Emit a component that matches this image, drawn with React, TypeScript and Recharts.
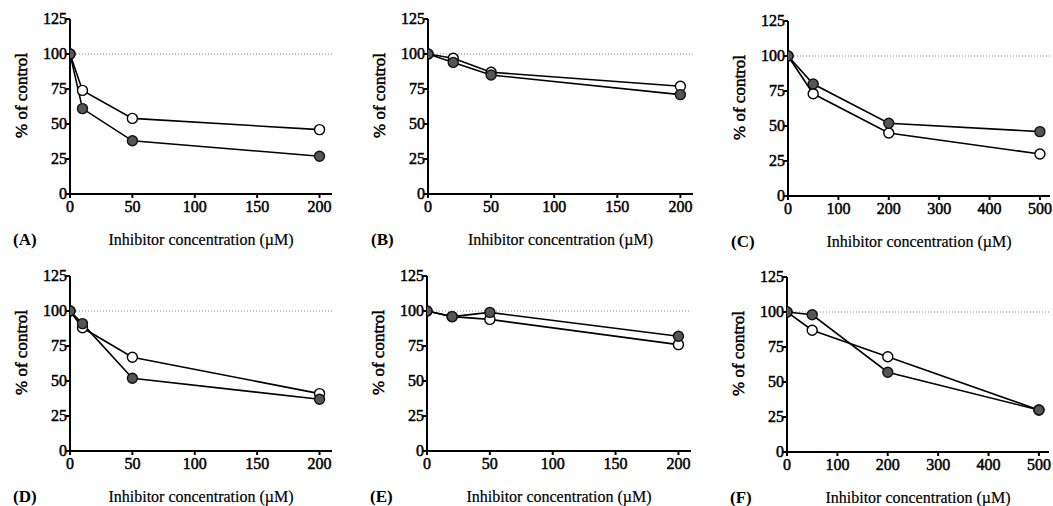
import { LineChart, Line, XAxis, YAxis, ReferenceLine, Label } from "recharts";

// concentrations (µM) per panel
const concA = [0, 10, 50, 200];
const concB = [0, 20, 50, 200];
const concC = [0, 50, 200, 500];
const concD = [0, 10, 50, 200];
const concE = [0, 20, 50, 200];
const concF = [0, 50, 200, 500];

// % of control, open circles
const openA = [100, 74, 54, 46];
const openB = [100, 97, 87, 77];
const openC = [100, 73, 45, 30];
const openD = [100, 88, 67, 41];
const openE = [100, 96, 94, 76];
const openF = [100, 87, 68, 30];

// % of control, filled circles
const filledA = [100, 61, 38, 27];
const filledB = [100, 94, 85, 71];
const filledC = [100, 80, 52, 46];
const filledD = [100, 91, 52, 37];
const filledE = [100, 96, 99, 82];
const filledF = [100, 98, 57, 30];

const yTicks = [0, 25, 50, 75, 100, 125];
const xTicks200 = [0, 50, 100, 150, 200];
const xTicks500 = [0, 100, 200, 300, 400, 500];

const FONT = "'Liberation Serif', 'Times New Roman', serif";
const Y_W = 70;
const PLOT_H = 175;
const TOP = 19;

function toRows(conc: number[], open: number[], filled: number[]) {
  return conc.map((c, i) => ({ c, open: open[i], filled: filled[i] }));
}

const OpenDot = (p: any) => (
  <circle cx={p.cx} cy={p.cy} r={5} fill="#fff" stroke="#000" strokeWidth={1.4} />
);
const FilledDot = (p: any) => (
  <circle cx={p.cx} cy={p.cy} r={5} fill="#555" stroke="#111" strokeWidth={1.4} />
);

const XTick = (p: any) => (
  <text x={p.x} y={p.y} dy={12} textAnchor="middle" fontFamily={FONT} fontSize={16}
    fill="#000" stroke="#000" strokeWidth={0.5}>
    {p.payload.value}
  </text>
);
const YTick = (p: any) => (
  <text x={p.x + 1} y={p.y} dy={5} textAnchor="end" fontFamily={FONT} fontSize={16}
    fill="#000" stroke="#000" strokeWidth={0.5}>
    {p.payload.value}
  </text>
);
const YTitle = (p: any) => {
  const vb = p.viewBox;
  const cx = vb.x + 21;
  const cy = vb.y + vb.height / 2 - 11;
  return (
    <text x={cx} y={cy} transform={`rotate(-90 ${cx} ${cy})`} textAnchor="middle" dominantBaseline="central"
      fontFamily={FONT} fontSize={17} fill="#000" stroke="#000" strokeWidth={0.5}>
      % of control
    </text>
  );
};
const XTitle = (p: any) => {
  const vb = p.viewBox;
  return (
    <text x={vb.x + vb.width / 2} y={vb.y + 51} textAnchor="middle"
      fontFamily={FONT} fontSize={16} fill="#000" stroke="#000" strokeWidth={0.2}>
      Inhibitor concentration (µM)
    </text>
  );
};

interface PanelProps {
  letter: string;
  axisX: number;
  top: number;
  xMax: number;
  plotW: number;
  xTicks: number[];
  conc: number[];
  open: number[];
  filled: number[];
}

function Panel({ letter, axisX, top, xMax, plotW, xTicks, conc, open, filled }: PanelProps) {
  const data = toRows(conc, open, filled);
  const width = Y_W + plotW + 2;
  const height = 253;
  const left = axisX - Y_W;
  return (
    <div style={{ position: "absolute", left, top: top - TOP, width, height, fontFamily: FONT }}>
      <LineChart
        width={width}
        height={height}
        data={data}
        margin={{ top: TOP, right: 2, left: 0, bottom: height - TOP - PLOT_H - 30 }}
      >
        <XAxis
          type="number"
          dataKey="c"
          domain={[0, xMax]}
          ticks={xTicks}
          allowDataOverflow
          stroke="#000"
          strokeWidth={2}
          tickSize={4}
          tick={<XTick />}
          height={30}
        >
          <Label content={<XTitle />} />
        </XAxis>
        <YAxis
          type="number"
          domain={[0, 125]}
          ticks={yTicks}
          width={Y_W}
          stroke="#000"
          strokeWidth={2}
          tickSize={4}
          tickMargin={0}
          tick={<YTick />}
        >
          <Label content={<YTitle />} />
        </YAxis>
        <ReferenceLine y={100} stroke="#888" strokeDasharray="1 2" strokeWidth={1} />
        <Line
          dataKey="open"
          stroke="#000"
          strokeWidth={1.6}
          dot={<OpenDot />}
          isAnimationActive={false}
        />
        <Line
          dataKey="filled"
          stroke="#000"
          strokeWidth={1.6}
          dot={<FilledDot />}
          isAnimationActive={false}
        />
      </LineChart>
      <div
        style={{
          position: "absolute",
          left: Y_W - 57,
          top: 230,
          fontFamily: FONT,
          fontSize: 17,
          fontWeight: 700,
          color: "#000",
        }}
      >
        ({letter})
      </div>
    </div>
  );
}

export default function App() {
  return (
    <div style={{ position: "absolute", left: 0, top: 0, width: 1053, height: 506, background: "#fff", overflow: "hidden" }}>
      <Panel letter="A" axisX={70} top={19} xMax={210} plotW={262} xTicks={xTicks200} conc={concA} open={openA} filled={filledA} />
      <Panel letter="B" axisX={428} top={19} xMax={210} plotW={265} xTicks={xTicks200} conc={concB} open={openB} filled={filledB} />
      <Panel letter="C" axisX={788} top={21} xMax={520} plotW={262} xTicks={xTicks500} conc={concC} open={openC} filled={filledC} />
      <Panel letter="D" axisX={70} top={276} xMax={210} plotW={262} xTicks={xTicks200} conc={concD} open={openD} filled={filledD} />
      <Panel letter="E" axisX={427} top={276} xMax={210} plotW={264} xTicks={xTicks200} conc={concE} open={openE} filled={filledE} />
      <Panel letter="F" axisX={787} top={277} xMax={520} plotW={262} xTicks={xTicks500} conc={concF} open={openF} filled={filledF} />
    </div>
  );
}
